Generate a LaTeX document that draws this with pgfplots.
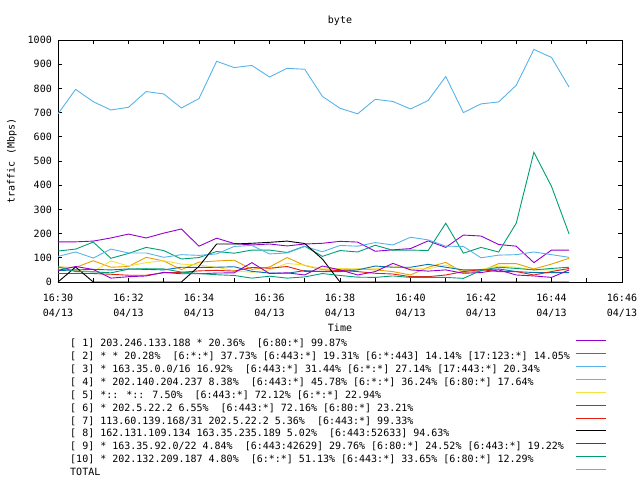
\documentclass[border=0pt]{standalone}
\usepackage{pgfplots}
\pgfplotsset{compat=1.18}
\usepackage{pgfplotstable}
\usepackage{fontspec}
\setmainfont{DejaVu Sans Mono}

\definecolor{gpA}{HTML}{9400D3}
\definecolor{gpB}{HTML}{009E73}
\definecolor{gpC}{HTML}{56B4E9}
\definecolor{gpD}{HTML}{E69F00}
\definecolor{gpE}{HTML}{F0E442}
\definecolor{gpF}{HTML}{0072B2}
\definecolor{gpG}{HTML}{E51E10}

% minutes after 16:30, Mbps
\pgfplotstableread{
t    s1  s2  s3  s4  s5 s6 s7 s8  s9 s10 tot
0.0  166 128 106 62  54 47 35 0   48 63  695
0.5  166 136 124 60  47 50 35 62  64 43  796
1.0  169 165 99  88  43 52 35 0   52 42  745
1.5  182 98  136 61  87 50 32 0   16 38  711
2.0  198 118 120 64  66 54 28 0   22 53  722
2.5  182 143 120 102 80 52 28 0   25 55  787
3.0  202 130 102 87  88 50 38 0   40 54  777
3.5  219 95  113 51  74 61 40 0   34 41  719
4.0  148 101 110 82  70 60 46 65  34 35  758
4.5  181 126 116 87  61 61 48 157 37 30  912
5.0  159 119 147 90  47 63 45 157 38 27  886
5.5  153 132 151 52  40 44 60 160 80 16  895
6.0  157 132 116 62  50 37 57 164 35 24  847
6.5  149 122 120 101 77 36 64 169 38 16  883
7.0  157 148 147 68  70 47 44 159 29 21  879
7.5  160 106 125 51  54 43 44 95  66 35  767
8.0  168 130 151 50  56 43 48 0   50 27  718
8.5  165 124 148 54  54 50 43 0   29 20  695
9.0  127 152 163 50  54 66 36 0   43 19  755
9.5  133 131 153 43  67 61 33 0   77 25  746
10.0 138 132 185 29  54 61 22 0   50 19  715
10.5 170 130 174 61  54 73 22 0   45 19  750
11.0 143 243 148 81  70 61 29 0   50 19  849
11.5 194 119 147 39  47 50 43 0   36 15  700
12.0 190 143 100 45  52 50 51 0   39 48  736
12.5 155 124 111 76  66 54 43 0   50 61  744
13.0 148 243 113 76  61 43 43 0   29 56  813
13.5 80  536 124 54  50 39 29 0   25 50  961
14.0 132 395 113 74  50 39 43 0   19 56  928
14.5 132 198 102 98  50 39 56 0   50 61  805
}\traffic

\newcommand{\lgent}[1]{\makebox[500pt][l]{#1}}

\begin{document}
\begin{tikzpicture}[x=1pt,y=1pt]
\useasboundingbox (0,0) rectangle (640,480);
\begin{axis}[
    at={(58pt,198pt)}, anchor=south west,
    scale only axis, width=564pt, height=242pt,
    xmin=0, xmax=16, ymin=0, ymax=1000,
    xtick={0,2,...,16}, minor xtick={1,3,...,15},
    xticklabels={{16:30\\04/13},{16:32\\04/13},{16:34\\04/13},{16:36\\04/13},
      {16:38\\04/13},{16:40\\04/13},{16:42\\04/13},{16:44\\04/13},{16:46\\04/13}},
    ytick={0,100,...,1000},
    yticklabels={0,100,200,300,400,500,600,700,800,900,1000},
    tick align=inside,
    major tick length=4pt, minor tick length=4pt,
    tick style={black, line width=0.8pt},
    axis line style={line width=0.8pt},
    tick label style={font=\fontsize{10}{15}\selectfont},
    xticklabel style={align=center, anchor=north, inner sep=0pt, yshift=-12pt},
    yticklabel style={anchor=east, inner sep=0pt, xshift=-6pt},
    title={byte},
    title style={at={(0.5,1)}, anchor=base, yshift=10pt, font=\fontsize{10}{12}\selectfont},
    xlabel={Time},
    xlabel style={at={(0.5,0)}, anchor=base, yshift=-49pt, font=\fontsize{10}{12}\selectfont},
    ylabel={traffic (Mbps)},
    ylabel style={at={(axis description cs:-0.0816,0.5)}, anchor=center, font=\fontsize{10}{12}\selectfont},
    legend style={at={(0.016,-0.221)}, anchor=north west, draw=none, fill=none,
      font=\fontsize{10}{13}\selectfont, column sep=5pt, row sep=0pt,
      nodes={inner sep=0pt, text height=9pt, text depth=3.9pt}},
    legend cell align=left,
    legend plot pos=right,
    legend image code/.code={\draw[#1] (0pt,3.5pt) -- (30pt,3.5pt);},
    every axis plot/.append style={line width=0.9pt},
]
\addplot[gpA] table[x=t, y=s1] {\traffic};
\addlegendentry{\lgent{[~1] 203.246.133.188 * 20.36\%~~[6:80:*] 99.87\%}}
\addplot[gpB] table[x=t, y=s2] {\traffic};
\addlegendentry{\lgent{[~2] * * 20.28\%~~[6:*:*] 37.73\% [6:443:*] 19.31\% [6:*:443] 14.14\% [17:123:*] 14.05\%}}
\addplot[gpC] table[x=t, y=s3] {\traffic};
\addlegendentry{\lgent{[~3] * 163.35.0.0/16 16.92\%~~[6:443:*] 31.44\% [6:*:*] 27.14\% [17:443:*] 20.34\%}}
\addplot[gpD] table[x=t, y=s4] {\traffic};
\addlegendentry{\lgent{[~4] * 202.140.204.237 8.38\%~~[6:443:*] 45.78\% [6:*:*] 36.24\% [6:80:*] 17.64\%}}
\addplot[gpE] table[x=t, y=s5] {\traffic};
\addlegendentry{\lgent{[~5] *:: *:: 7.50\%~~[6:443:*] 72.12\% [6:*:*] 22.94\%}}
\addplot[gpF] table[x=t, y=s6] {\traffic};
\addlegendentry{\lgent{[~6] * 202.5.22.2 6.55\%~~[6:443:*] 72.16\% [6:80:*] 23.21\%}}
\addplot[gpG] table[x=t, y=s7] {\traffic};
\addlegendentry{\lgent{[~7] 113.60.139.168/31 202.5.22.2 5.36\%~~[6:443:*] 99.33\%}}
\addplot[black] table[x=t, y=s8] {\traffic};
\addlegendentry{\lgent{[~8] 162.131.109.134 163.35.235.189 5.02\%~~[6:443:52633] 94.63\%}}
\addplot[gpA] table[x=t, y=s9] {\traffic};
\addlegendentry{\lgent{[~9] * 163.35.92.0/22 4.84\%~~[6:443:42629] 29.76\% [6:80:*] 24.52\% [6:443:*] 19.22\%}}
\addplot[gpB] table[x=t, y=s10] {\traffic};
\addlegendentry{\lgent{[10] * 202.132.209.187 4.80\%~~[6:*:*] 51.13\% [6:443:*] 33.65\% [6:80:*] 12.29\%}}
\addplot[gpC] table[x=t, y=tot] {\traffic};
\addlegendentry{\lgent{TOTAL}}
\end{axis}
\end{tikzpicture}
\end{document}
